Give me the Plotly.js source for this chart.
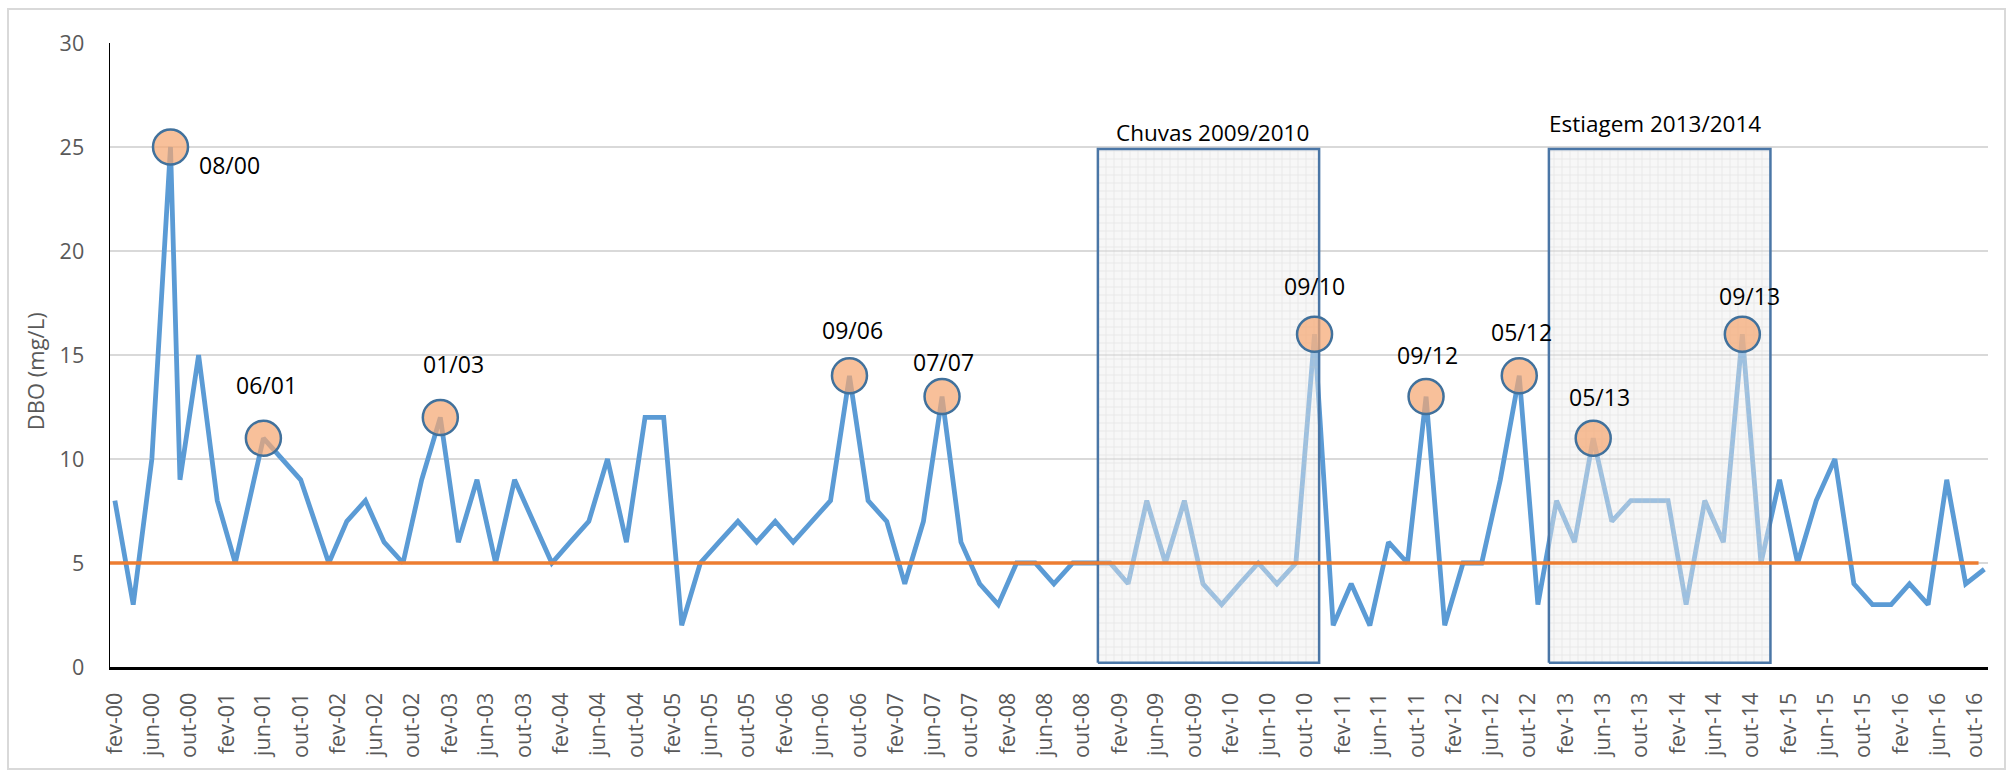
<!DOCTYPE html>
<html>
<head>
<meta charset="utf-8">
<script src="https://cdn.plot.ly/plotly-3.0.1.min.js"></script>
<style>
html,body{margin:0;padding:0;background:#ffffff;}
#frame{position:absolute;left:7px;top:8px;width:1999px;height:762px;border:2px solid #d9d9d9;box-sizing:border-box;}
#chart{position:absolute;left:0;top:0;width:2013px;height:776px;}
</style>
</head>
<body>
<div id="frame"></div>
<div id="chart"></div>
<script>
// ---------- DATA ----------
const sampleDates = [
  '2000-02','2000-04','2000-06','2000-08','2000-09','2000-11',
  '2001-01','2001-03','2001-06','2001-08','2001-10',
  '2002-01','2002-03','2002-05','2002-07','2002-09','2002-11',
  '2003-01','2003-03','2003-05','2003-07','2003-09','2003-11',
  '2004-01','2004-03','2004-05','2004-07','2004-09','2004-11',
  '2005-01','2005-03','2005-05','2005-07','2005-09','2005-11',
  '2006-01','2006-03','2006-05','2006-07','2006-09','2006-11',
  '2007-01','2007-03','2007-05','2007-07','2007-09','2007-11',
  '2008-01','2008-03','2008-05','2008-07','2008-09','2008-11',
  '2009-01','2009-03','2009-05','2009-07','2009-09','2009-11',
  '2010-01','2010-03','2010-05','2010-07','2010-09','2010-11',
  '2011-01','2011-03','2011-05','2011-07','2011-09','2011-11',
  '2012-01','2012-03','2012-05','2012-07','2012-09','2012-11',
  '2013-01','2013-03','2013-05','2013-07','2013-09','2013-11',
  '2014-01','2014-03','2014-05','2014-07','2014-09','2014-11',
  '2015-01','2015-03','2015-05','2015-07','2015-09','2015-11',
  '2016-01','2016-03','2016-05','2016-07','2016-09','2016-11'
];
const dboValues = [
  8, 3, 10, 25, 9, 15,
  8, 5, 11, 10, 9,
  5, 7, 8, 6, 5, 9,
  12, 6, 9, 5, 9, 7,
  5, 6, 7, 10, 6, 12,
  12, 2, 5, 6, 7, 6,
  7, 6, 7, 8, 14, 8,
  7, 4, 7, 13, 6, 4,
  3, 5, 5, 4, 5, 5,
  5, 4, 8, 5, 8, 4,
  3, 4, 5, 4, 5, 16,
  2, 4, 2, 6, 5, 13,
  2, 5, 5, 9, 14, 3,
  8, 6, 11, 7, 8, 8,
  8, 3, 8, 6, 16, 5,
  9, 5, 8, 10, 4, 3,
  3, 4, 3, 9, 4, 4.7
];

const limitValue = 5;
const limitDates = ['2000-01-16', '2016-10-13'];

const peakDates  = ['2000-08','2001-06','2003-01','2006-09','2007-07','2010-11','2011-11','2012-09','2013-05','2014-09'];
const peakLabels = ['08/00','06/01','01/03','09/06','07/07','09/10','09/12','05/12','05/13','09/13'];

const periodNames  = ['Chuvas 2009/2010', 'Estiagem 2013/2014'];
const periodStarts = ['2008-11-22', '2012-12-07'];
const periodEnds   = ['2010-11-16', '2014-12-02'];

const tickLabels = [
  'fev-00','jun-00','out-00','fev-01','jun-01','out-01','fev-02','jun-02','out-02',
  'fev-03','jun-03','out-03','fev-04','jun-04','out-04','fev-05','jun-05','out-05',
  'fev-06','jun-06','out-06','fev-07','jun-07','out-07','fev-08','jun-08','out-08',
  'fev-09','jun-09','out-09','fev-10','jun-10','out-10','fev-11','jun-11','out-11',
  'fev-12','jun-12','out-12','fev-13','jun-13','out-13','fev-14','jun-14','out-14',
  'fev-15','jun-15','out-15','fev-16','jun-16','out-16'
];
const yAxisTitle = 'DBO (mg/L)';

// ---------- STYLE ----------
const FONT = '"Open Sans", "Liberation Sans", sans-serif';
const labelOffsets = [[59,-18],[3,53],[13,53],[3,46],[1,35],[0,48],[1,42],[2,44],[6,41],[7,38]];
const periodLabelOffsets = [[4,17],[-5,26]];
const boxBottom = 0.2, boxTop = 24.9;

// ---------- BUILD ----------
const monthNum = {jan:'01',fev:'02',mar:'03',abr:'04',mai:'05',jun:'06',jul:'07',ago:'08',set:'09',out:'10',nov:'11',dez:'12'};
const tickVals = tickLabels.map(t => {
  const [m, y] = t.split('-');
  return (2000 + parseInt(y, 10)) + '-' + monthNum[m] + '-01';
});

const peakValues = peakDates.map(d => dboValues[sampleDates.indexOf(d)]);

const traces = [];
traces.push({
  type: 'scatter', mode: 'lines', x: sampleDates, y: dboValues,
  line: {color: '#5b9bd5', width: 4.8}, hoverinfo: 'skip'
});
periodNames.forEach((n, i) => {
  const s = periodStarts[i], e = periodEnds[i];
  traces.push({
    type: 'scatter', mode: 'lines',
    x: [s, e, e, s, s], y: [boxBottom, boxBottom, boxTop, boxTop, boxBottom],
    fill: 'toself', fillcolor: 'rgba(238,238,238,0.45)',
    fillpattern: {shape: '+', size: 8, solidity: 0.12, fgcolor: '#c8c8c8', fgopacity: 0.55, bgcolor: 'rgba(238,238,238,0.45)'},
    line: {color: '#4a76a6', width: 2.5}, hoverinfo: 'skip'
  });
});
traces.push({
  type: 'scatter', mode: 'lines', x: limitDates, y: [limitValue, limitValue],
  line: {color: '#ed7d31', width: 3.5}, hoverinfo: 'skip'
});
traces.push({
  type: 'scatter', mode: 'markers', x: peakDates, y: peakValues,
  marker: {size: 35, color: 'rgba(245,168,115,0.72)', line: {color: '#41719c', width: 2.5}},
  hoverinfo: 'skip'
});

const annotations = [];
peakLabels.forEach((t, i) => {
  annotations.push({
    x: peakDates[i], y: peakValues[i], xref: 'x', yref: 'y', text: t, showarrow: false,
    xanchor: 'center', yanchor: 'middle', xshift: labelOffsets[i][0], yshift: labelOffsets[i][1],
    font: {family: FONT, size: 23, color: '#000000'}
  });
});
periodNames.forEach((n, i) => {
  const a = new Date(periodStarts[i]).getTime(), b = new Date(periodEnds[i]).getTime();
  const mid = new Date((a + b) / 2).toISOString().slice(0, 10);
  annotations.push({
    x: mid, y: boxTop, xref: 'x', yref: 'y', text: n, showarrow: false,
    xanchor: 'center', yanchor: 'middle', xshift: periodLabelOffsets[i][0], yshift: periodLabelOffsets[i][1],
    font: {family: FONT, size: 22.5, color: '#000000'}
  });
});
annotations.push({
  xref: 'paper', yref: 'paper', x: 0, y: 0.474, xshift: -75, xanchor: 'center', yanchor: 'middle',
  text: yAxisTitle, textangle: -90, showarrow: false,
  font: {family: FONT, size: 22, color: '#595959'}
});

const layout = {
  width: 2013, height: 776,
  margin: {l: 110, r: 25, t: 43, b: 109},
  paper_bgcolor: 'rgba(0,0,0,0)', plot_bgcolor: 'rgba(0,0,0,0)',
  showlegend: false, hovermode: false,
  xaxis: {
    type: 'date', range: ['2000-01-16', '2016-11-13'],
    tickmode: 'array', tickvals: tickVals, ticktext: tickLabels, tickangle: -90,
    ticks: 'outside', ticklen: 14, tickcolor: 'rgba(0,0,0,0)',
    tickfont: {family: FONT, size: 21.5, color: '#595959'},
    showgrid: false, zeroline: false, showline: true, linecolor: '#000000', linewidth: 3
  },
  yaxis: {
    range: [0, 30], tick0: 0, dtick: 5,
    ticks: 'outside', ticklen: 20, tickcolor: 'rgba(0,0,0,0)',
    tickfont: {family: FONT, size: 21.5, color: '#595959'},
    showgrid: true, gridcolor: '#d9d9d9', gridwidth: 1.5,
    zeroline: false, showline: true, linecolor: '#000000', linewidth: 1.5
  },
  annotations: annotations
};

Plotly.newPlot('chart', traces, layout, {displayModeBar: false, staticPlot: true});
</script>
</body>
</html>
